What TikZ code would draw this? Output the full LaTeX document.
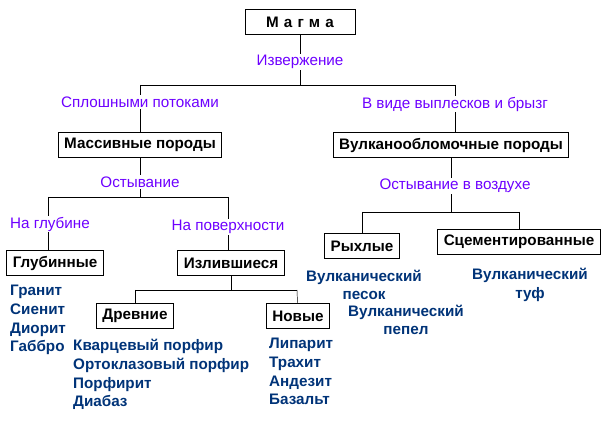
\documentclass[tikz,border=0pt]{standalone}
\usepackage{fontspec}
\setmainfont{Liberation Sans}
\usetikzlibrary{positioning}
\definecolor{violet}{RGB}{110,0,255}
\definecolor{rockblue}{RGB}{0,51,120}
\begin{document}
\begin{tikzpicture}[x=0.03cm,y=-0.03cm,font=\fontsize{13}{15}\selectfont]
  \useasboundingbox (0,0) rectangle (611,432);
  \tikzset{
    rock/.style={draw,thick,fill=white,font=\fontsize{13}{15}\selectfont\bfseries,minimum height=0.75cm,inner xsep=5pt},
    way/.style={fill=white,text=violet,inner sep=1pt},
    kind/.style={text=rockblue,font=\fontsize{13}{16}\selectfont\bfseries,align=left,inner sep=0pt}
  }
  % boxes
  \node[rock,minimum width=3.3cm] (magma) at (300,22) {М\,\,а\,\,г\,\,м\,\,а};
  \node[rock] (mass) at (140,145) {Массивные породы};
  \node[rock] (volc) at (451,145) {Вулканообломочные породы};
  \node[rock] (deep) at (55,263) {Глубинные};
  \node[rock] (eff) at (231,263) {Излившиеся};
  \node[rock] (old) at (135,316) {Древние};
  \node[rock] (new) at (298,316) {Новые};
  \node[rock] (loose) at (362,246) {Рыхлые};
  \node[rock] (cem) at (519,242) {Сцементированные};
  % junctions
  \coordinate (j1) at (300,85);
  \coordinate (j1l) at (140,85);
  \coordinate (j1r) at (455,85);
  \coordinate (j2) at (140,197);
  \coordinate (j2l) at (48,197);
  \coordinate (j2r) at (228,197);
  \coordinate (j3) at (231,290);
  \coordinate (j3l) at (135,290);
  \coordinate (j3r) at (297,290);
  \coordinate (j4) at (451,212);
  \coordinate (j4l) at (362,212);
  \coordinate (j4r) at (519,212);
  % lines
  \draw (magma) -- (j1);
  \draw (j1l) -- (j1r);
  \draw (j1l) -- (j1l |- mass.north);
  \draw (j1r) -- (j1r |- volc.north);
  \draw (mass) -- (j2);
  \draw (j2l) -- (j2r);
  \draw (j2l) -- (j2l |- deep.north);
  \draw (j2r) -- (j2r |- eff.north);
  \draw (eff) -- (j3);
  \draw (j3l) -- (j3r);
  \draw (j3l) -- (old);
  \draw (j3r) -- (new);
  \draw (volc) -- (j4);
  \draw (j4l) -- (j4r);
  \draw (j4l) -- (loose);
  \draw (j4r) -- (cem);
  % labels
  \node[way] (erupt) at (300,62) {Извержение};
  \node[way] (flow) at (140,102) {Сплошными потоками};
  \node[way] (splash) at (455,104) {В виде выплесков и брызг};
  \node[way] (cool) at (140,182) {Остывание};
  \node[way] (depth) at (50,224) {На глубине};
  \node[way] (surf) at (228,227) {На поверхности};
  \node[way] (air) at (455,186) {Остывание в воздухе};
  % rocks
  \node[kind,anchor=north west] (deeplist) at (10,285) {Гранит\\Сиенит\\Диорит\\Габбро};
  \node[kind,anchor=north west] (oldlist) at (73,339) {Кварцевый порфир\\Ортоклазовый порфир\\Порфирит\\Диабаз};
  \node[kind,anchor=north west] (newlist) at (269,338) {Липарит\\Трахит\\Андезит\\Базальт};
  \node[kind,align=center] (sand) at (364,285) {Вулканический\\песок};
  \node[kind,align=center] (ash) at (406,320) {Вулканический\\пепел};
  \node[kind,align=center] (tuff) at (530,285) {Вулканический\\туф};
\end{tikzpicture}
\end{document}
